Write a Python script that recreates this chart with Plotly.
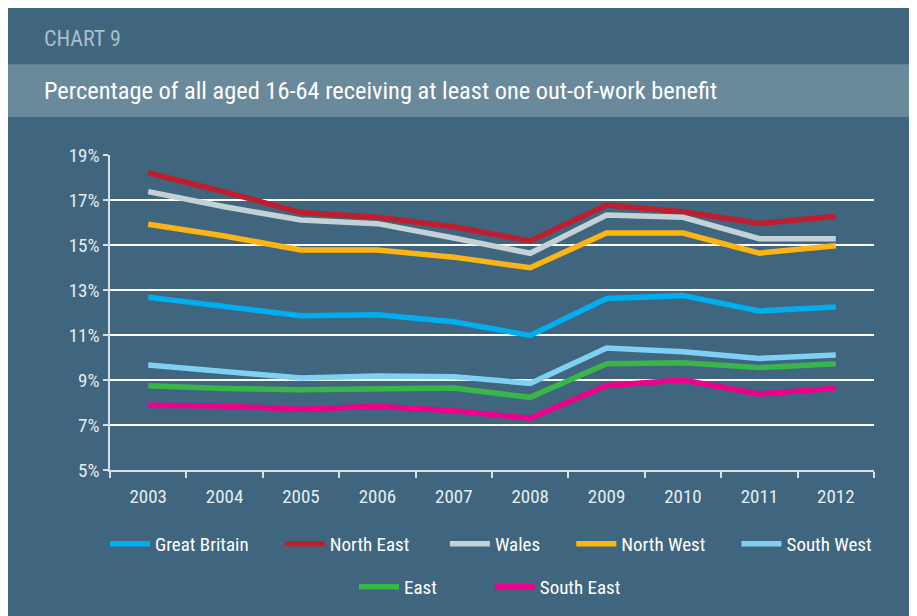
import plotly.graph_objects as go

years = ["2003", "2004", "2005", "2006", "2007", "2008", "2009", "2010", "2011", "2012"]

great_britain = [12.68, 12.26, 11.86, 11.90, 11.59, 10.98, 12.62, 12.75, 12.07, 12.24]
north_east    = [18.21, 17.36, 16.44, 16.23, 15.81, 15.18, 16.78, 16.48, 15.96, 16.28]
wales         = [17.37, 16.70, 16.11, 15.95, 15.31, 14.63, 16.33, 16.23, 15.28, 15.28]
north_west    = [15.92, 15.40, 14.78, 14.78, 14.46, 13.99, 15.53, 15.53, 14.64, 14.97]
south_west    = [9.67, 9.41, 9.09, 9.18, 9.15, 8.85, 10.42, 10.26, 9.96, 10.11]
east          = [8.74, 8.62, 8.57, 8.60, 8.64, 8.23, 9.72, 9.77, 9.55, 9.72]
south_east    = [7.88, 7.84, 7.70, 7.83, 7.63, 7.30, 8.76, 9.00, 8.38, 8.63]

y_ticks = [5, 7, 9, 11, 13, 15, 17, 19]
y_tick_labels = ["5%", "7%", "9%", "11%", "13%", "15%", "17%", "19%"]

NB = "\u00a0"
series = [
    ("Great Britain", great_britain, "#00aeef", "legend", 6),
    ("North East", north_east, "#be1e2d", "legend", 7),
    ("Wales", wales, "#c3d2d6", "legend", 6),
    ("North West", north_west, "#fdb515", "legend", 6),
    ("South West", south_west, "#80d0f4", "legend", 0),
    ("East", east, "#39b54a", "legend2", 11),
    ("South East", south_east, "#ec008c", "legend2", 0),
]

PANEL = "#3f667e"
BAND = "#6a8a9c"
FONT = "Roboto Condensed, Liberation Sans Narrow, Roboto, sans-serif"

fig = go.Figure()
for name, vals, col, lg, pad in series:
    fig.add_trace(go.Scatter(
        x=years, y=vals, name=name + NB * pad, mode="lines",
        line=dict(color=col, width=5.5),
        legend=lg,
    ))

# the page adds an 8px body margin, so figure coords = reference px - 8
OFF = 8
W, H = 909, 608
L, R, T, B = 102, 43, 147, 145
pw, ph = W - L - R, H - T - B

def px(x):
    return (x - OFF - L) / pw

def py(y):
    return (H - B - (y - OFF)) / ph

shapes = [
    dict(type="rect", xref="paper", yref="paper", x0=px(0), x1=px(W + 20),
         y0=py(117), y1=py(64), fillcolor=BAND, line=dict(width=0), layer="below"),
]

annotations = [
    dict(text="CHART 9", xref="paper", yref="paper", x=px(42), y=py(38),
         xanchor="left", yanchor="middle", showarrow=False,
         font=dict(family=FONT, size=22, color="#a8bfcc")),
    dict(text="Percentage of all aged 16-64 receiving at least one out-of-work benefit",
         xref="paper", yref="paper", x=px(42), y=py(90),
         xanchor="left", yanchor="middle", showarrow=False,
         font=dict(family=FONT, size=24.4, color="#ffffff")),
]

fig.update_layout(
    width=W, height=H,
    margin=dict(l=L, r=R, t=T, b=B),
    paper_bgcolor=PANEL,
    plot_bgcolor=PANEL,
    shapes=shapes,
    annotations=annotations,
    font=dict(family=FONT, color="#e6edf1", size=18),
    xaxis=dict(
        type="category", tickson="boundaries", ticks="outside", ticklen=6,
        tickcolor="#d8e0e5", tickwidth=1.5, ticklabelstandoff=8,
        showline=True, linecolor="#d8e0e5", linewidth=1.5,
        showgrid=False, zeroline=False,
        tickfont=dict(family=FONT, size=19, color="#e6edf1"),
        range=[-0.5, 9.5],
    ),
    yaxis=dict(
        range=[5, 19], tickvals=y_ticks, ticktext=y_tick_labels,
        ticks="outside", ticklen=5, tickcolor="#d8e0e5", tickwidth=1.5,
        showline=True, linecolor="#d8e0e5", linewidth=1.5,
        showgrid=True, gridcolor="#ffffff", gridwidth=1.5,
        zeroline=False,
        tickfont=dict(family=FONT, size=19, color="#e6edf1"),
    ),
    legend=dict(
        orientation="h", x=px(105), xanchor="left", y=py(544), yanchor="middle",
        bgcolor="rgba(0,0,0,0)", font=dict(family=FONT, size=19, color="#ffffff"),
        itemwidth=40, traceorder="normal",
    ),
    legend2=dict(
        orientation="h", x=px(354), xanchor="left", y=py(587), yanchor="middle",
        bgcolor="rgba(0,0,0,0)", font=dict(family=FONT, size=19, color="#ffffff"),
        itemwidth=40, traceorder="normal",
    ),
    showlegend=True,
)

fig.write_html("out.html")
